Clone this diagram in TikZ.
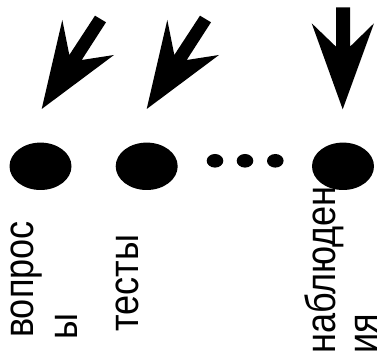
\documentclass[tikz,border=0pt]{standalone}
\usepackage{fontspec}
\setmainfont{Liberation Sans}
\usetikzlibrary{shapes.geometric}
\newcommand{\narrowtext}[1]{\scalebox{0.86}[1]{#1}}
\begin{document}
\begin{tikzpicture}[x=1pt,y=-1pt,
  blob/.style={ellipse,fill=black,inner sep=0pt,minimum width=62pt,minimum height=47.4pt},
  dot/.style={ellipse,fill=black,inner sep=0pt,minimum width=16.6pt,minimum height=13.6pt},
  bigarrow/.style={fill=black},
  vlabel/.style={rotate=90,anchor=base west,inner sep=0pt,font=\fontsize{42}{50}\selectfont}]
\useasboundingbox (0,0) rectangle (386,363);
% ellipses
\node[blob] (e1) at (40.5,166.3) {};
\node[blob] (e2) at (146.7,166.3) {};
\node[blob] (e3) at (343,166.3) {};
\node[dot] (d1) at (215,160.8) {};
\node[dot] (d2) at (245,160.8) {};
\node[dot] (d3) at (275.3,160.8) {};
% arrows
\fill[bigarrow] (41.7,109) -- (62.3,20) -- (69.3,55) -- (95,15.7) -- (106,22.3) -- (81.7,60) -- (114,55) -- cycle;
\begin{scope}[xshift=105pt]
\fill[bigarrow] (41.7,109) -- (62.3,20) -- (69.3,55) -- (95,15.7) -- (106,22.3) -- (81.7,60) -- (114,55) -- cycle;
\end{scope}
\fill[bigarrow] (342.7,109.3) -- (311.7,23.3) -- (336,46.7) -- (336,7.3) -- (350,7.3) -- (350,46.7) -- (374,23.3) -- cycle;
% labels
\node[vlabel] (t1) at (33,338) {\narrowtext{вопрос}};
\node[vlabel] (t1b) at (77,340) {\narrowtext{ы}};
\node[vlabel] (t2) at (138,332) {\narrowtext{тесты}};
\node[vlabel] (t3) at (335,354) {\narrowtext{наблюден}};
\node[vlabel] (t3b) at (377,354) {\narrowtext{ия}};
\end{tikzpicture}
\end{document}
